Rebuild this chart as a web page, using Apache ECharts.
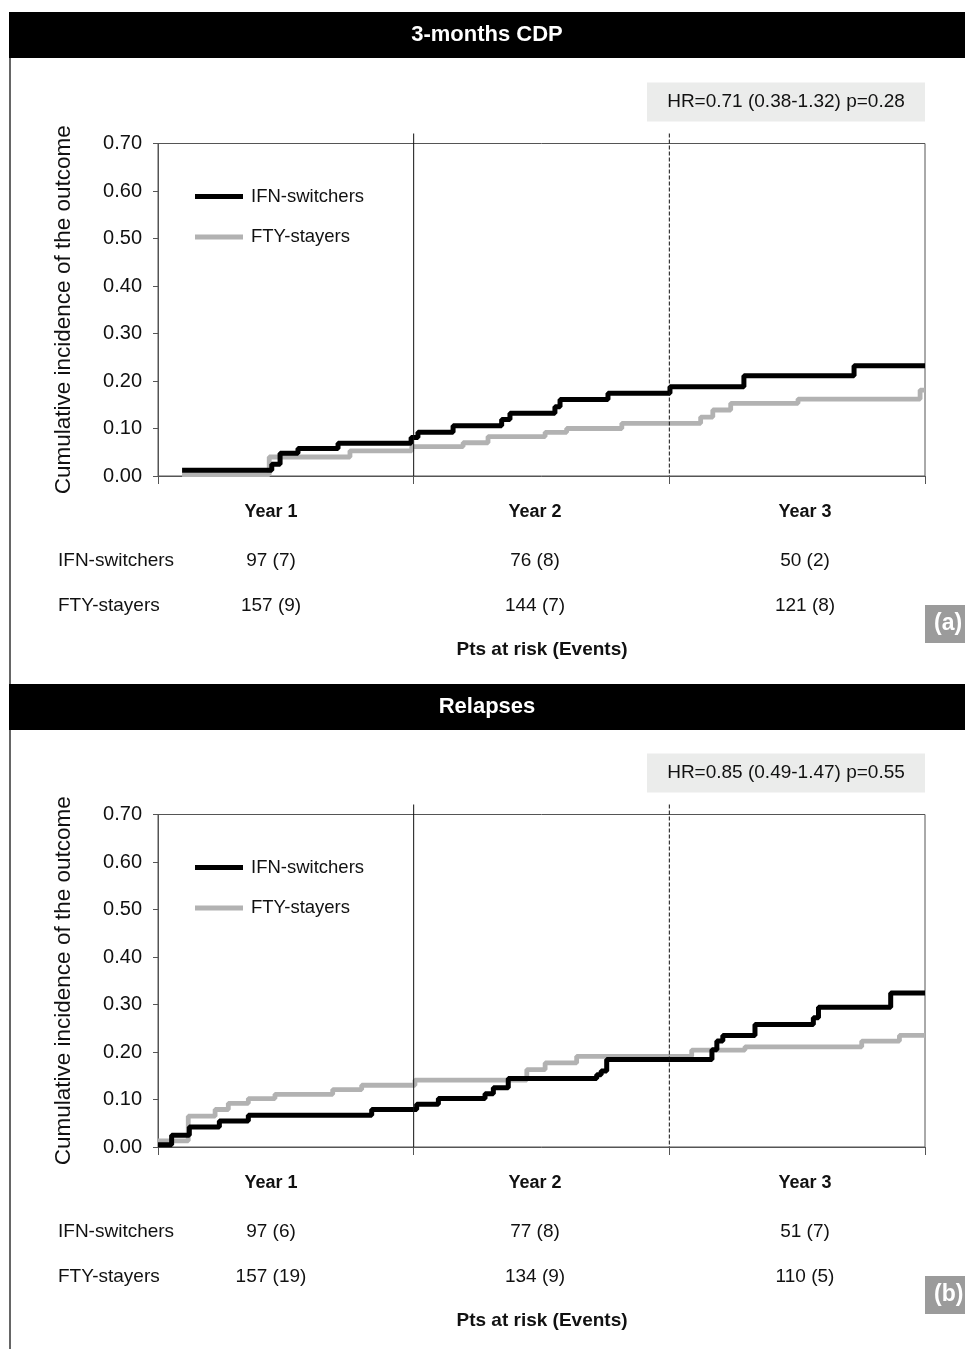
<!DOCTYPE html>
<html><head><meta charset="utf-8">
<script src="https://cdn.jsdelivr.net/npm/echarts@6/dist/echarts.min.js"></script>
<style>html,body{margin:0;padding:0;background:#fff;overflow:hidden}#c{width:965px;height:1349px}</style>
</head><body><div id="c"></div>
<script>
// ---------------- data ----------------
const panelTitles = ['3-months CDP', 'Relapses'];
const panelLetters = ['(a)', '(b)'];
const hrTexts = ['HR=0.71 (0.38-1.32) p=0.28', 'HR=0.85 (0.49-1.47) p=0.55'];
const seriesNames = ['IFN-switchers', 'FTY-stayers'];
const yearLabels = ['Year 1', 'Year 2', 'Year 3'];
const yAxisTitle = 'Cumulative incidence of the outcome';
const riskFooter = 'Pts at risk (Events)';
const yearMarkers = [12, 24];          // months
const yTickValues = [0, 0.1, 0.2, 0.3, 0.4, 0.5, 0.6, 0.7];

// panel (a) 3-months CDP : step times (months) and cumulative incidence
const cdpIfnMonths = [1.13, 5.34, 5.73, 6.57, 8.45, 11.88, 12.20, 13.85, 16.13, 16.52, 18.63, 18.87, 21.12, 24.03, 27.5, 32.67, 36];
const cdpIfnCum    = [0.012, 0.025, 0.048, 0.058, 0.069, 0.081, 0.092, 0.106, 0.119, 0.132, 0.146, 0.161, 0.174, 0.188, 0.211, 0.232, 0.232];
const cdpFtyMonths = [1.13, 5.22, 9.01, 11.91, 14.32, 15.49, 18.17, 19.18, 21.77, 25.47, 26.04, 26.88, 30.04, 35.77, 36];
const cdpFtyCum    = [0.003, 0.040, 0.053, 0.062, 0.070, 0.083, 0.092, 0.100, 0.111, 0.124, 0.139, 0.153, 0.162, 0.181, 0.181];

// panel (b) Relapses
const relIfnMonths = [0.0, 0.64, 1.47, 2.88, 4.24, 10.03, 12.14, 13.16, 15.35, 15.74, 16.44, 20.59, 20.8, 21.06, 26.0, 26.23, 26.51, 28.02, 30.76, 31.0, 34.39, 36];
const relIfnCum    = [0.005, 0.025, 0.042, 0.055, 0.067, 0.079, 0.090, 0.102, 0.112, 0.125, 0.144, 0.152, 0.160, 0.184, 0.205, 0.223, 0.235, 0.258, 0.272, 0.294, 0.324, 0.324];
const relFtyMonths = [0.0, 1.42, 2.68, 3.30, 4.24, 5.49, 8.20, 9.56, 12.06, 17.31, 18.17, 19.65, 25.05, 27.55, 33.03, 34.80, 36];
const relFtyCum    = [0.013, 0.065, 0.079, 0.092, 0.102, 0.111, 0.121, 0.130, 0.141, 0.163, 0.177, 0.191, 0.204, 0.211, 0.223, 0.235, 0.235];

// patients at risk (events)
const cdpRiskIfn = ['97 (7)', '76 (8)', '50 (2)'];
const cdpRiskFty = ['157 (9)', '144 (7)', '121 (8)'];
const relRiskIfn = ['97 (6)', '77 (8)', '51 (7)'];
const relRiskFty = ['157 (19)', '134 (9)', '110 (5)'];

// ---------------- layout / style ----------------
const FONT = '"Liberation Sans", Arial, Helvetica, sans-serif';
const BLACK = '#000000', GRAY = '#b2b2b2', FRAME = '#555555';
const GRID_LEFT = 158, GRID_W = 767, GRID_H = 332.5;
const gridTops = [143.5, 814.5];
const columnX = [271, 535, 805];

const panels = [
  {ifn: [cdpIfnMonths, cdpIfnCum], fty: [cdpFtyMonths, cdpFtyCum], risk: [cdpRiskIfn, cdpRiskFty]},
  {ifn: [relIfnMonths, relIfnCum], fty: [relFtyMonths, relFtyCum], risk: [relRiskIfn, relRiskFty]}
];

const chart = echarts.init(document.getElementById('c'), null, {renderer: 'canvas'});

const grids = [], xAxes = [], yAxes = [], series = [], legends = [];
panels.forEach((p, i) => {
  grids.push({left: GRID_LEFT, top: gridTops[i], width: GRID_W, height: GRID_H,
    show: true, borderColor: FRAME, borderWidth: 1, backgroundColor: 'transparent'});
  xAxes.push({type: 'value', gridIndex: i, min: 0, max: 36, interval: 12,
    axisLine: {show: true, lineStyle: {color: FRAME, width: 1}},
    axisTick: {show: true, length: 8, lineStyle: {color: FRAME}},
    axisLabel: {show: false}, splitLine: {show: false}});
  yAxes.push({type: 'value', gridIndex: i, min: 0, max: 0.7, interval: 0.1,
    axisLine: {show: true, lineStyle: {color: FRAME, width: 1}},
    axisTick: {show: true, length: 5, lineStyle: {color: FRAME}},
    axisLabel: {fontFamily: FONT, fontSize: 20, color: '#111', margin: 16,
      formatter: v => v.toFixed(2)},
    splitLine: {show: false},
    name: yAxisTitle, nameLocation: 'middle', nameRotate: 90, nameGap: 83,
    nameTextStyle: {fontFamily: FONT, fontSize: 22.5, color: '#111'}});
  series.push({type: 'line', name: seriesNames[1], xAxisIndex: i, yAxisIndex: i, step: 'end',
    symbol: 'none', showSymbol: false, silent: true, z: 3,
    data: p.fty[0].map((m, k) => [m, p.fty[1][k]]),
    lineStyle: {color: GRAY, width: 4.8}, itemStyle: {color: GRAY}});
  series.push({type: 'line', name: seriesNames[0], xAxisIndex: i, yAxisIndex: i, step: 'end',
    symbol: 'none', showSymbol: false, silent: true, z: 4,
    data: p.ifn[0].map((m, k) => [m, p.ifn[1][k]]),
    lineStyle: {color: BLACK, width: 5}, itemStyle: {color: BLACK}});
  legends.push({orient: 'vertical', left: 195, top: gridTops[i] + 43.5, itemGap: 21.5, padding: 0,
    itemWidth: 48, itemHeight: 5, icon: 'rect', selectedMode: false,
    data: seriesNames,
    textStyle: {fontFamily: FONT, fontSize: 18.5, color: '#111', padding: [0, 0, 0, 3]}});
});

chart.setOption({
  animation: false,
  backgroundColor: '#ffffff',
  grid: grids, xAxis: xAxes, yAxis: yAxes, series: series, legend: legends
});

// ---------------- decorations (text & lines) ----------------
const g = [];
function txt(text, x, y, size, opts) {
  opts = opts || {};
  g.push({type: 'text', silent: true, z: 10, style: {
    text: text, x: x, y: y,
    font: (opts.bold ? 'bold ' : '') + size + 'px ' + FONT,
    fill: opts.fill || '#111',
    textAlign: opts.align || 'center', align: opts.align || 'center',
    textVerticalAlign: 'middle', verticalAlign: 'middle'}});
}
function rect(x, y, w, h, fill, z) {
  g.push({type: 'rect', silent: true, z: z || 1, shape: {x: x, y: y, width: w, height: h}, style: {fill: fill}});
}
function line(x1, y1, x2, y2, stroke, width, dash) {
  g.push({type: 'line', silent: true, z: 5, shape: {x1: x1, y1: y1, x2: x2, y2: y2},
    style: {stroke: stroke, lineWidth: width, lineDash: dash || null}});
}

panels.forEach((p, i) => {
  const sIdx = i * 2;
  const top = chart.convertToPixel({seriesIndex: sIdx}, [0, 0.7]);
  const bot = chart.convertToPixel({seriesIndex: sIdx}, [0, 0]);
  const gTop = top[1], gBot = bot[1];
  const headerTop = gTop - 131.5 + i;
  // header bar
  rect(9, headerTop, 965 - 9, 46, '#000000', 2);
  txt(panelTitles[i], 487, headerTop + 22.5, 22, {bold: true, fill: '#ffffff'});
  // left frame line
  const frameEnd = i === 0 ? gridTops[1] - 130.5 : 1349;
  line(10, headerTop + 46, 10, frameEnd, '#333333', 1.5);
  // HR box
  rect(647, gTop - 61, 278, 39, '#ebeceb', 2);
  txt(hrTexts[i], 786, gTop - 41.5, 19);
  // year marker lines
  yearMarkers.forEach((m, k) => {
    const px = chart.convertToPixel({seriesIndex: sIdx}, [m, 0.7])[0];
    line(px, gTop - 10, px, gBot, '#111111', 1, k === 1 ? [4, 2] : null);
  });
  // year labels and risk table
  yearLabels.forEach((y, k) => txt(y, columnX[k], gBot + 36, 18, {bold: true}));
  txt(seriesNames[0], 58, gBot + 85, 19, {align: 'left'});
  txt(seriesNames[1], 58, gBot + 130, 19, {align: 'left'});
  p.risk[0].forEach((v, k) => txt(v, columnX[k], gBot + 85, 19));
  p.risk[1].forEach((v, k) => txt(v, columnX[k], gBot + 130, 19));
  txt(riskFooter, 542, gBot + 174, 19, {bold: true});
  // panel letter
  rect(925, gBot + 129, 40, 38, '#9b9b9b', 2);
  txt(panelLetters[i], 934, gBot + 148, 23, {bold: true, fill: '#ffffff', align: 'left'});
});

chart.setOption({graphic: {elements: g}});
</script>
</body></html>
